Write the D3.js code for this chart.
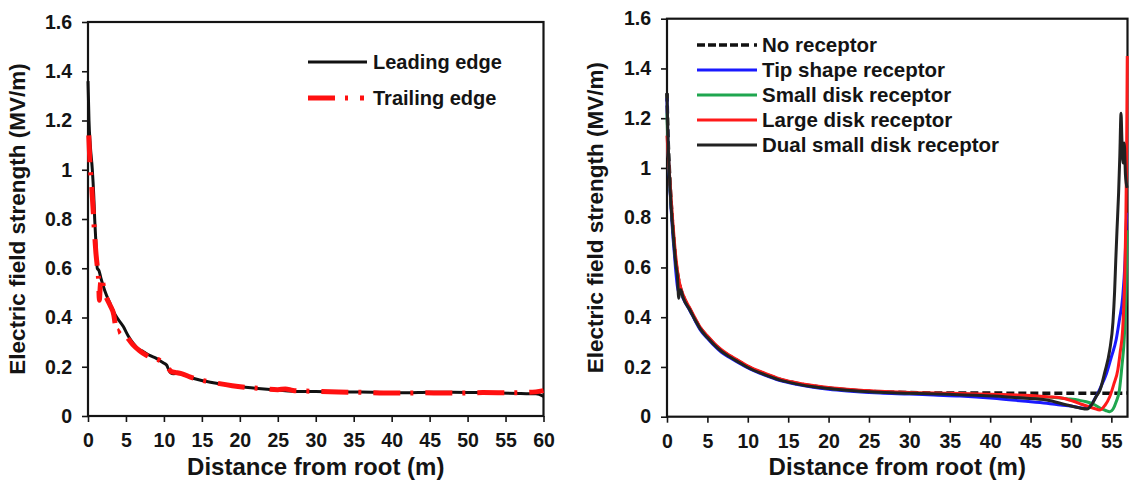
<!DOCTYPE html>
<html>
<head>
<meta charset="utf-8">
<script src="https://cdn.jsdelivr.net/npm/d3@7"></script>
<style>
  html, body { margin: 0; padding: 0; background: #fff; }
  svg { display: block; font-family: "Liberation Sans", Arial, sans-serif; font-weight: bold; }
</style>
</head>
<body>
<svg id="chart" width="1133" height="485"></svg>
<script>
// ---- Left panel: blade edges, field strength (MV/m) vs distance from root (m)
const leadingEdge = [
  [0,1.36],[0.05,1.3],[0.13,1.2],[0.3,1.1],[0.57,1.0],[0.75,0.9],[0.88,0.8],[1.05,0.7],[1.22,0.6],
  [1.45,0.59],[1.7,0.56],[2.2,0.51],[2.9,0.457],[3.6,0.41],[4.65,0.363],[5.3,0.325],[5.96,0.295],
  [6.5,0.275],[7.3,0.261],[8.2,0.245],[9.0,0.234],[9.8,0.218],[10.35,0.207],[10.6,0.19],[10.8,0.178],
  [11.2,0.172],[12.1,0.173],[13.2,0.16],[14.7,0.146],[16.5,0.135],[19.1,0.122],[22,0.113],[24.8,0.106],
  [27.9,0.1],[30,0.1],[33,0.098],[36,0.097],[39,0.095],[42,0.094],[45,0.096],[48,0.096],[51,0.095],
  [54,0.093],[57,0.091],[59,0.09],[60,0.08]
];
const trailingEdge = [
  [0.1,1.14],[0.25,1.03],[0.45,0.95],[0.65,0.85],[0.85,0.75],[1.05,0.66],[1.25,0.6],[1.4,0.55],
  [1.5,0.47],[1.6,0.52],[1.75,0.56],[2.2,0.5],[2.9,0.45],[3.4,0.41],[3.6,0.37],[3.9,0.34],[4.3,0.35],
  [4.9,0.33],[5.9,0.29],[6.8,0.265],[7.5,0.25],[8.5,0.235],[9.5,0.225],[10.3,0.205],[11,0.18],
  [11.5,0.177],[12.3,0.172],[13.5,0.158],[15,0.145],[17,0.133],[19,0.123],[21,0.116],[23,0.111],
  [25,0.107],[26,0.11],[27,0.104],[30,0.1],[33,0.097],[36,0.096],[40,0.093],[44,0.094],[48,0.093],
  [52,0.095],[56,0.094],[59,0.098],[60,0.103]
];

// ---- Right panel: receptor configurations
const noReceptor = [
  [0,1.3],[0.1,1.16],[0.3,0.99],[0.5,0.87],[0.7,0.77],[0.9,0.69],[1.1,0.62],[1.3,0.575],[1.6,0.525],
  [2.0,0.485],[2.85,0.43],[3.5,0.39],[4.1,0.357],[5,0.322],[5.7,0.297],[6.7,0.267],[7.8,0.243],[9,0.22],
  [9.9,0.203],[12,0.173],[14,0.15],[16,0.135],[18.1,0.123],[20,0.115],[22.3,0.108],[24,0.104],
  [26.4,0.1],[30,0.097],[35,0.095],[40,0.095],[45,0.094],[50,0.094],[55,0.094],[57,0.095]
];
const tipShape = [
  [0,1.28],[0.1,1.12],[0.3,0.96],[0.5,0.84],[0.7,0.74],[0.9,0.66],[1.1,0.58],[1.3,0.52],[1.45,0.5],
  [1.6,0.51],[2.0,0.475],[2.85,0.425],[3.5,0.385],[4.1,0.35],[5,0.315],[5.7,0.29],[6.7,0.26],[7.8,0.237],
  [9,0.214],[9.9,0.198],[12,0.168],[14,0.145],[16,0.13],[18.1,0.118],[20,0.11],[22.3,0.103],[24,0.099],
  [26.4,0.095],[30,0.091],[33,0.087],[36.3,0.083],[40.4,0.074],[44,0.063],[47,0.054],[48.7,0.047],
  [50.5,0.04],[51.5,0.034],[52.2,0.04],[52.7,0.058],[53.1,0.08],[53.7,0.12],[54.4,0.174],[55.0,0.24],
  [55.6,0.31],[56.0,0.39],[56.4,0.48],[56.7,0.63],[56.9,0.82]
];
const smallDisk = [
  [0,1.22],[0.1,1.1],[0.3,0.97],[0.5,0.86],[0.7,0.77],[0.9,0.69],[1.1,0.62],[1.3,0.57],[1.6,0.52],
  [2.0,0.482],[2.85,0.43],[3.5,0.39],[4.1,0.356],[5,0.32],[5.7,0.296],[6.7,0.266],[7.8,0.242],[9,0.219],
  [9.9,0.202],[12,0.172],[14,0.149],[16,0.134],[18.1,0.122],[20,0.114],[22.3,0.107],[24,0.103],
  [26.4,0.099],[30,0.095],[35,0.092],[40,0.088],[45,0.082],[48,0.077],[49.5,0.072],[51,0.066],
  [51.9,0.06],[52.8,0.05],[53.6,0.035],[54.3,0.025],[54.8,0.02],[55.2,0.03],[55.6,0.06],[56.0,0.107],
  [56.3,0.2],[56.65,0.35],[56.85,0.55],[56.95,0.75]
];
const largeDisk = [
  [0,1.13],[0.1,1.08],[0.3,0.98],[0.5,0.88],[0.7,0.79],[0.9,0.71],[1.1,0.64],[1.3,0.585],[1.6,0.53],
  [2.0,0.49],[2.85,0.435],[3.5,0.395],[4.1,0.36],[5,0.325],[5.7,0.3],[6.7,0.27],[7.8,0.246],[9,0.223],
  [9.9,0.206],[12,0.176],[14,0.152],[16,0.137],[18.1,0.125],[20,0.117],[22.3,0.11],[24,0.106],
  [26.4,0.102],[30,0.097],[35,0.094],[40,0.09],[45,0.085],[47,0.08],[48.7,0.076],[50.3,0.062],
  [51.5,0.048],[52.8,0.034],[53.6,0.027],[54.2,0.045],[54.8,0.08],[55.3,0.13],[55.8,0.188],[56.1,0.26],
  [56.4,0.35],[56.65,0.55],[56.8,0.8],[56.9,1.1],[56.97,1.45]
];
const dualSmallDisk = [
  [0,1.3],[0.1,1.14],[0.3,0.97],[0.5,0.85],[0.7,0.76],[0.9,0.68],[1.1,0.61],[1.3,0.56],[1.45,0.476],
  [1.55,0.5],[1.7,0.51],[2.0,0.478],[2.85,0.428],[3.5,0.388],[4.1,0.354],[5,0.318],[5.7,0.294],
  [6.7,0.264],[7.8,0.24],[9,0.217],[9.9,0.2],[12,0.17],[14,0.147],[16,0.132],[18.1,0.12],[20,0.113],
  [22.3,0.106],[24,0.102],[26.4,0.098],[30,0.094],[35,0.09],[40.4,0.083],[44,0.075],[47,0.067],
  [49.5,0.047],[51,0.036],[52,0.031],[52.6,0.05],[53.1,0.08],[53.6,0.107],[54.2,0.18],[54.8,0.268],
  [55.2,0.38],[55.4,0.5],[55.55,0.63],[55.7,0.75],[55.9,0.9],[56.05,1.05],[56.2,1.22],[56.3,1.12],
  [56.45,1.02],[56.6,1.1],[56.75,0.97],[56.95,0.92]
];

// ---- Axis ticks and labels
const yTicks = [0, 0.2, 0.4, 0.6, 0.8, 1.0, 1.2, 1.4, 1.6];
const yTickLabels = ["0", "0.2", "0.4", "0.6", "0.8", "1", "1.2", "1.4", "1.6"];
const xTicksLeft = [0, 5, 10, 15, 20, 25, 30, 35, 40, 45, 50, 55, 60];
const xTicksRight = [0, 5, 10, 15, 20, 25, 30, 35, 40, 45, 50, 55];
const xTitle = "Distance from root (m)";
const yTitle = "Electric field strength (MV/m)";

const leftNames = ["Leading edge", "Trailing edge"];
const rightNames = ["No receptor", "Tip shape receptor", "Small disk receptor", "Large disk receptor", "Dual small disk receptor"];

const INK = "#141414";
const svg = d3.select("#chart");
svg.append("rect").attr("width", 1133).attr("height", 485).attr("fill", "#fff");

function drawPanel(cfg) {
  const x = d3.scaleLinear().domain([0, cfg.xMax]).range([cfg.left, cfg.right]);
  const y = d3.scaleLinear().domain([0, 1.6]).range([cfg.bottom, cfg.top]);
  const g = svg.append("g");

  const yAxis = g.append("g").attr("transform", `translate(${cfg.left},0)`)
    .call(d3.axisLeft(y).tickValues(yTicks).tickFormat((d, i) => yTickLabels[i])
      .tickSize(6).tickPadding(10).tickSizeOuter(0));
  const xAxis = g.append("g").attr("transform", `translate(0,${cfg.bottom})`)
    .call(d3.axisBottom(x).tickValues(cfg.xTicks).tickFormat(d3.format("d"))
      .tickSize(6).tickPadding(11).tickSizeOuter(0));
  [yAxis, xAxis].forEach(a => {
    a.select(".domain").remove();
    a.selectAll(".tick line").attr("stroke", INK).attr("stroke-width", 1.6);
    a.selectAll(".tick text").attr("fill", INK).style("font-size", "19.5px").style("font-weight", "bold");
  });

  // frame
  g.append("rect")
    .attr("x", cfg.left).attr("y", cfg.top)
    .attr("width", cfg.right - cfg.left).attr("height", cfg.bottom - cfg.top)
    .attr("fill", "none").attr("stroke", INK).attr("stroke-width", 2.2);

  // titles
  g.append("text")
    .attr("x", (cfg.left + cfg.right) / 2).attr("y", 475)
    .attr("text-anchor", "middle").attr("fill", INK).style("font-size", "24px")
    .text(xTitle);
  g.append("text")
    .attr("transform", `translate(${cfg.yTitleX},${(cfg.top + cfg.bottom) / 2}) rotate(-90)`)
    .attr("text-anchor", "middle").attr("fill", INK).style("font-size", "22.5px")
    .text(yTitle);

  const line = d3.line().x(d => x(d[0])).y(d => y(d[1])).curve(d3.curveMonotoneX);
  cfg.series.forEach(s => {
    g.append("path").datum(s.data)
      .attr("d", line)
      .attr("fill", "none")
      .attr("stroke", s.color)
      .attr("stroke-width", s.width)
      .attr("stroke-linejoin", "round")
      .attr("stroke-dasharray", s.dash || null);
  });

  // legend
  const lg = g.append("g");
  cfg.legend.forEach((s, i) => {
    const yy = cfg.legendY + i * cfg.legendStep;
    lg.append("line")
      .attr("x1", cfg.legendX1).attr("x2", cfg.legendX2)
      .attr("y1", yy).attr("y2", yy)
      .attr("stroke", s.color).attr("stroke-width", s.legendWidth || s.width)
      .attr("stroke-dasharray", s.legendDash || s.dash || null);
    lg.append("text")
      .attr("x", cfg.legendX2 + cfg.textGap).attr("y", yy).attr("dy", "0.36em")
      .attr("fill", INK).style("font-size", cfg.legendFont)
      .text(s.name);
  });
}

const leftSeries = [
  { name: leftNames[0], data: leadingEdge, color: "#111", width: 3 },
  { name: leftNames[1], data: trailingEdge, color: "#ff1010", width: 5, dash: "27,10,3,12",
    legendDash: "27,10,3,12,4,40" }
];
drawPanel({
  left: 88, right: 543.5, top: 22, bottom: 416, xMax: 60, xTicks: xTicksLeft, yTitleX: 25,
  series: leftSeries, legend: leftSeries, legendFont: "20px",
  legendX1: 308, legendX2: 367, legendY: 62, legendStep: 36, textGap: 6
});

const rightSeries = [
  { name: rightNames[0], data: noReceptor, color: "#111", width: 3.5, dash: "8,4", legendDash: "8,3,8,3,8,3,8,3,8,5,3,20" },
  { name: rightNames[1], data: tipShape, color: "#1a1aff", width: 3 },
  { name: rightNames[2], data: smallDisk, color: "#1fa64f", width: 3 },
  { name: rightNames[3], data: largeDisk, color: "#ff1a1a", width: 3 },
  { name: rightNames[4], data: dualSmallDisk, color: "#222", width: 3 }
];
drawPanel({
  left: 667, right: 1127.5, top: 18.7, bottom: 416.7, xMax: 57, xTicks: xTicksRight, yTitleX: 603,
  series: rightSeries, legend: rightSeries, legendFont: "20.5px",
  legendX1: 697, legendX2: 757, legendY: 45, legendStep: 25, textGap: 5
});
</script>
</body>
</html>
